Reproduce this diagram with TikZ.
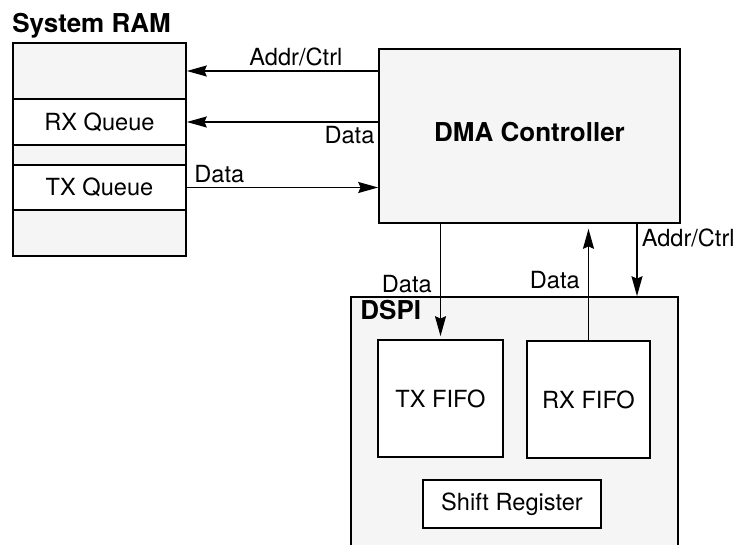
\documentclass[tikz,border=0pt]{standalone}
\usepackage{fontspec}
\setmainfont{TeX Gyre Heros}
\usetikzlibrary{arrows.meta}
\definecolor{panelgray}{gray}{0.96}
\tikzset{
    box/.style={draw, line width=0.8pt, inner sep=0pt, fill=white,
        font=\fontsize{11.8}{14}\selectfont},
    shaded/.style={box, fill=panelgray},
    title/.style={font=\fontsize{13}{15}\selectfont\bfseries, inner sep=0pt},
    lbl/.style={font=\fontsize{11.8}{14}\selectfont, inner sep=2pt},
    link/.style={->, line width=0.75pt},
}

\begin{document}
\begin{tikzpicture}[x=0.5pt, y=-0.5pt, >={Stealth[length=10pt,width=5.5pt,inset=1.2pt]}]
    \clip (0,0) rectangle (740,545);

    % System RAM, stacked slots
    \node[title, anchor=base west] (ramtitle) at (12,33) {System RAM};
    \node[shaded, minimum width=86.5pt, minimum height=28pt] (ramtop) at (99.5,71) {};
    \node[box, minimum width=86.5pt, minimum height=23pt] (rxq) at (99.5,122) {RX Queue};
    \node[shaded, minimum width=86.5pt, minimum height=10pt] (ramgap) at (99.5,155) {};
    \node[box, minimum width=86.5pt, minimum height=22.5pt] (txq) at (99.5,187.5) {TX Queue};
    \node[shaded, minimum width=86.5pt, minimum height=23pt] (rambot) at (99.5,233) {};

    % controller
    \node[shaded, minimum width=150.5pt, minimum height=87pt, text depth=4pt,
        font=\fontsize{13}{15}\selectfont\bfseries] (dma) at (529.5,136) {DMA Controller};

    % DSPI block, runs off the bottom edge
    \node[shaded, minimum width=163.5pt, minimum height=151.5pt] (dspi) at (514.5,448.5) {};
    \node[title, anchor=base west] (dspititle) at (360,320) {DSPI};
    \node[box, minimum width=62.5pt, minimum height=58.5pt] (txfifo) at (440.5,398.5) {TX FIFO};
    \node[box, minimum width=61.5pt, minimum height=58.5pt] (rxfifo) at (588.5,399.5) {RX FIFO};
    \node[box, minimum width=89pt, minimum height=24pt] (shiftreg) at (512,504) {Shift Register};

    \draw[link] (dma.west |- ramtop.east) -- node[lbl, above, pos=0.43] {Addr/Ctrl} (ramtop.east);
    \draw[link] (dma.west |- rxq.east) -- node[lbl, below, pos=0.15] {Data} (rxq.east);
    \draw[link] (txq.east) -- node[lbl, above, pos=0.17] {Data} (dma.west |- txq.east);

    \draw[link, shorten >=1.5pt] (dma.south -| txfifo.north) -- node[lbl, left=2pt, pos=0.52] {Data} (txfifo.north);
    \draw[link, shorten >=2.5pt] (rxfifo.north) -- node[lbl, left=2pt, pos=0.52] {Data} (rxfifo.north |- dma.south);
    \coordinate (ctrlx) at (637,0);
    \draw[link] (dma.south -| ctrlx) -- node[lbl, right, pos=0.2] {Addr/Ctrl} (dspi.north -| ctrlx);
\end{tikzpicture}
\end{document}
